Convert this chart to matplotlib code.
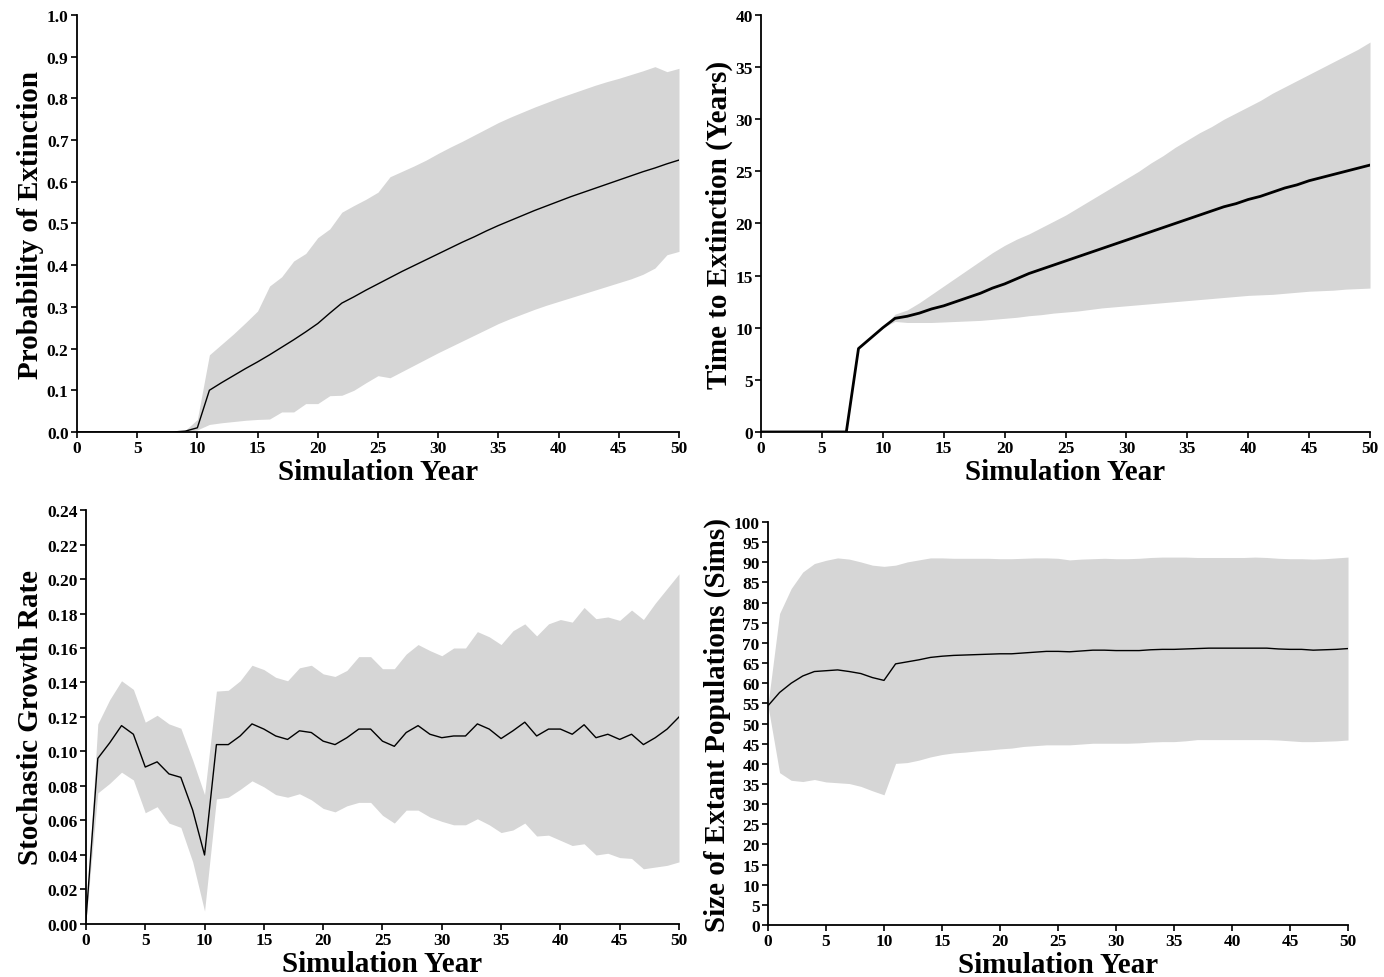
import numpy as np
import matplotlib
matplotlib.use("Agg")
import matplotlib.pyplot as plt
from matplotlib.ticker import FormatStrFormatter

plt.rcParams['font.family'] = ['Liberation Serif', 'DejaVu Serif']
plt.rcParams['font.weight'] = 'bold'

years = np.arange(0, 51)

# --- Probability of extinction
pe_mean = [0, 0, 0, 0, 0, 0, 0, 0, 0, 0.002, 0.01, 0.10, 0.118, 0.135, 0.152, 0.168, 0.185,
           0.203, 0.221, 0.24, 0.26, 0.285, 0.309, 0.324, 0.34, 0.355, 0.37, 0.385, 0.399,
           0.413, 0.427, 0.441, 0.455, 0.468, 0.482, 0.495, 0.507, 0.519, 0.531, 0.542,
           0.553, 0.564, 0.574, 0.584, 0.594, 0.604, 0.614, 0.624, 0.633, 0.643, 0.652]
pe_upper = [0, 0, 0, 0, 0, 0, 0, 0, 0, 0.004, 0.03, 0.185, 0.21, 0.235, 0.262, 0.29, 0.35,
            0.372, 0.41, 0.428, 0.466, 0.487, 0.527, 0.543, 0.558, 0.575, 0.612, 0.625,
            0.638, 0.652, 0.668, 0.683, 0.697, 0.712, 0.727, 0.742, 0.755, 0.767, 0.779,
            0.79, 0.801, 0.811, 0.821, 0.831, 0.84, 0.848, 0.857, 0.866, 0.876, 0.864, 0.872]
pe_lower = [0, 0, 0, 0, 0, 0, 0, 0, 0, 0, 0.005, 0.018, 0.022, 0.025, 0.028, 0.03, 0.031,
            0.048, 0.048, 0.068, 0.068, 0.087, 0.088, 0.1, 0.118, 0.135, 0.13, 0.145, 0.16,
            0.175, 0.19, 0.204, 0.218, 0.232, 0.246, 0.26, 0.272, 0.283, 0.294, 0.304,
            0.313, 0.322, 0.331, 0.34, 0.349, 0.358, 0.367, 0.378, 0.393, 0.425, 0.433]

# --- Time to extinction
te_mean = [0, 0, 0, 0, 0, 0, 0, 0, 8.0, 9.0, 10.0, 10.9, 11.1, 11.4, 11.8, 12.1, 12.5, 12.9,
           13.3, 13.8, 14.2, 14.7, 15.2, 15.6, 16.0, 16.4, 16.8, 17.2, 17.6, 18.0, 18.4,
           18.8, 19.2, 19.6, 20.0, 20.4, 20.8, 21.2, 21.6, 21.9, 22.3, 22.6, 23.0, 23.4,
           23.7, 24.1, 24.4, 24.7, 25.0, 25.3, 25.6]
te_upper = [0, 0, 0, 0, 0, 0, 0, 0, 8.0, 9.0, 10.0, 11.3, 11.7, 12.4, 13.2, 14.0, 14.8, 15.6,
            16.4, 17.2, 17.9, 18.5, 19.0, 19.6, 20.2, 20.8, 21.5, 22.2, 22.9, 23.6, 24.3,
            25.0, 25.8, 26.5, 27.3, 28.0, 28.7, 29.3, 30.0, 30.6, 31.2, 31.8, 32.5, 33.1,
            33.7, 34.3, 34.9, 35.5, 36.1, 36.7, 37.4]
te_lower = [0, 0, 0, 0, 0, 0, 0, 0, 8.0, 9.0, 10.0, 10.6, 10.5, 10.5, 10.5, 10.55, 10.6, 10.65,
            10.7, 10.8, 10.9, 11.0, 11.15, 11.25, 11.4, 11.5, 11.6, 11.75, 11.9, 12.0, 12.1,
            12.2, 12.3, 12.4, 12.5, 12.6, 12.7, 12.8, 12.9, 13.0, 13.1, 13.15, 13.2, 13.3,
            13.4, 13.5, 13.55, 13.6, 13.7, 13.75, 13.8]

# --- Stochastic growth rate
gr_mean = [0.002, 0.096, 0.105, 0.115, 0.110, 0.091, 0.094, 0.087, 0.085, 0.066, 0.040,
           0.104, 0.104, 0.109, 0.116, 0.113, 0.109, 0.107, 0.112, 0.111, 0.106, 0.104,
           0.108, 0.113, 0.113, 0.106, 0.103, 0.111, 0.115, 0.110, 0.108, 0.109, 0.109,
           0.116, 0.113, 0.1075, 0.112, 0.117, 0.109, 0.113, 0.113, 0.110, 0.1155, 0.108,
           0.110, 0.107, 0.110, 0.104, 0.108, 0.113, 0.120]
gr_upper = [0.002, 0.116, 0.130, 0.141, 0.136, 0.117, 0.121, 0.116, 0.1135, 0.095, 0.075,
            0.135, 0.1355, 0.141, 0.150, 0.1475, 0.143, 0.141, 0.1485, 0.150, 0.145, 0.1435,
            0.147, 0.155, 0.155, 0.148, 0.148, 0.1565, 0.162, 0.1585, 0.1555, 0.160, 0.160,
            0.1695, 0.1665, 0.162, 0.170, 0.174, 0.167, 0.174, 0.1765, 0.175, 0.1835, 0.177,
            0.178, 0.176, 0.182, 0.1765, 0.186, 0.1945, 0.203]
gr_lower = [0.002, 0.076, 0.0815, 0.088, 0.0835, 0.0645, 0.068, 0.0585, 0.056, 0.036, 0.0075,
            0.0725, 0.0735, 0.078, 0.083, 0.0795, 0.075, 0.0735, 0.0755, 0.072, 0.067, 0.065,
            0.0685, 0.0705, 0.0705, 0.063, 0.0585, 0.066, 0.066, 0.062, 0.0595, 0.0575,
            0.0575, 0.061, 0.0575, 0.053, 0.0545, 0.0585, 0.051, 0.0515, 0.0485, 0.0455,
            0.0465, 0.040, 0.041, 0.0385, 0.038, 0.032, 0.033, 0.034, 0.036]

# --- Size of extant populations
sp_mean = [54.4, 57.7, 60.0, 61.8, 62.9, 63.1, 63.3, 62.9, 62.4, 61.4, 60.7, 64.8, 65.3, 65.8,
           66.4, 66.7, 66.9, 67.0, 67.1, 67.2, 67.3, 67.3, 67.5, 67.7, 67.9, 67.9, 67.8,
           68.0, 68.2, 68.2, 68.1, 68.1, 68.1, 68.3, 68.4, 68.4, 68.5, 68.6, 68.7, 68.7,
           68.7, 68.7, 68.7, 68.7, 68.5, 68.4, 68.4, 68.2, 68.3, 68.4, 68.6]
sp_upper = [54.7, 77.3, 83.5, 87.6, 89.7, 90.5, 91.1, 90.8, 90.1, 89.3, 89.0, 89.3, 90.1, 90.6,
            91.1, 91.1, 91.0, 91.0, 91.0, 91.0, 90.9, 90.9, 91.0, 91.1, 91.1, 91.0, 90.6,
            90.8, 90.9, 91.0, 90.9, 90.9, 91.0, 91.2, 91.3, 91.3, 91.3, 91.2, 91.2, 91.2,
            91.2, 91.2, 91.3, 91.2, 91.0, 90.9, 90.9, 90.8, 90.9, 91.1, 91.3]
sp_lower = [54.4, 37.8, 35.9, 35.6, 36.1, 35.5, 35.3, 35.1, 34.4, 33.3, 32.3, 40.1, 40.3, 40.9,
            41.7, 42.3, 42.7, 42.9, 43.2, 43.4, 43.7, 43.9, 44.3, 44.5, 44.7, 44.7, 44.7,
            44.9, 45.1, 45.1, 45.1, 45.1, 45.2, 45.4, 45.5, 45.5, 45.7, 46.0, 46.0, 46.0,
            46.0, 46.0, 46.0, 46.0, 45.9, 45.7, 45.5, 45.5, 45.6, 45.7, 45.9]

band_color = '#d6d6d6'
tick_font = 12.5
label_font = 21


def style_axes(ax, ylabel, ylim, yticks, yfmt):
    ax.set_xlim(0, 50)
    ax.set_ylim(*ylim)
    ax.set_xticks(range(0, 51, 5))
    ax.set_yticks(yticks)
    ax.yaxis.set_major_formatter(FormatStrFormatter(yfmt))
    for side in ['top', 'right']:
        ax.spines[side].set_visible(False)
    for side in ['left', 'bottom']:
        ax.spines[side].set_linewidth(1.3)
    ax.tick_params(direction='out', length=4, width=1.2, labelsize=tick_font, pad=2)
    for lab in ax.get_xticklabels() + ax.get_yticklabels():
        lab.set_fontweight('bold')
    ax.set_xlabel('Simulation Year', fontsize=label_font, fontweight='bold', labelpad=1)
    ax.set_ylabel(ylabel, fontsize=label_font, fontweight='bold', labelpad=2)


fig = plt.figure(figsize=(13.84, 9.78), dpi=100)

ax1 = fig.add_axes([0.0556, 0.5573, 0.435, 0.4264])
ax1.fill_between(years, pe_lower, pe_upper, color=band_color, linewidth=0)
ax1.plot(years, pe_mean, color='black', linewidth=1.0)
style_axes(ax1, 'Probability of Extinction', (0, 1.0), np.arange(0, 1.01, 0.1), '%.1f')

ax2 = fig.add_axes([0.5499, 0.5573, 0.44, 0.4264])
ax2.fill_between(years, te_lower, te_upper, color=band_color, linewidth=0)
ax2.plot(years, te_mean, color='black', linewidth=2.0)
style_axes(ax2, 'Time to Extinction (Years)', (0, 40), range(0, 41, 5), '%d')

ax3 = fig.add_axes([0.0621, 0.0542, 0.4285, 0.4233])
ax3.fill_between(years, gr_lower, gr_upper, color=band_color, linewidth=0)
ax3.plot(years, gr_mean, color='black', linewidth=1.0)
style_axes(ax3, 'Stochastic Growth Rate', (0, 0.24), np.arange(0, 0.2401, 0.02), '%.2f')

ax4 = fig.add_axes([0.5549, 0.0532, 0.4191, 0.412])
ax4.fill_between(years, sp_lower, sp_upper, color=band_color, linewidth=0)
ax4.plot(years, sp_mean, color='black', linewidth=1.0)
style_axes(ax4, 'Size of Extant Populations (Sims)', (0, 100), range(0, 101, 5), '%d')

fig.savefig('out.png', dpi=100)
